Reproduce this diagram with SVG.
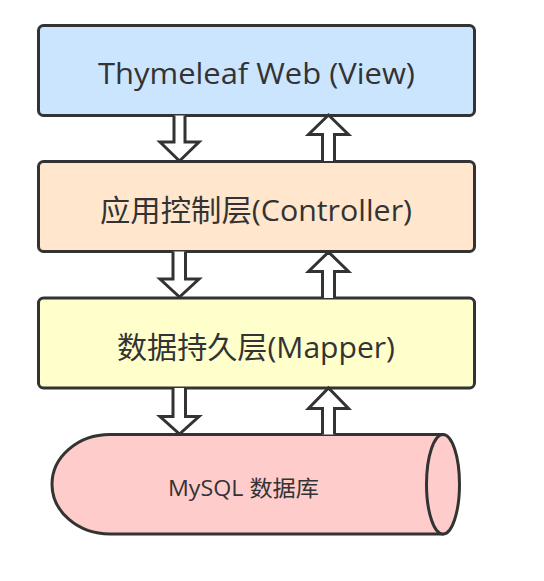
<svg xmlns="http://www.w3.org/2000/svg" width="544" height="581" viewBox="0 0 544 581">
<style>
.box{stroke:#333333;stroke-width:3}
.arr{fill:#ffffff;stroke:#333333;stroke-width:3;stroke-linejoin:miter}
.lbl{font-family:"Open Sans","Noto Sans CJK SC",sans-serif;fill:#333333;text-anchor:middle;dominant-baseline:central}
</style>
<rect width="544" height="581" fill="#ffffff"/>
<g id="view">
<rect class="box" x="38.5" y="25.5" width="436" height="90" rx="5" fill="#cce5ff"/>
<text class="lbl" x="256.5" y="72" font-size="29.5" textLength="317" lengthAdjust="spacingAndGlyphs">Thymeleaf Web (View)</text>
</g>
<g id="controller">
<rect class="box" x="38.5" y="161.5" width="436" height="90" rx="5" fill="#ffe6cc"/>
<text class="lbl" x="256" y="209" font-size="29.5" textLength="312" lengthAdjust="spacingAndGlyphs">应用控制层(Controller)</text>
</g>
<g id="mapper">
<rect class="box" x="38.5" y="298" width="436" height="90" rx="5" fill="#ffffcc"/>
<text class="lbl" x="256" y="346" font-size="29.5" textLength="278" lengthAdjust="spacingAndGlyphs">数据持久层(Mapper)</text>
</g>
<g id="mysql">
<path class="box" d="M110,434.5 H443 A16.5,50 0 0 1 443,534 H110 A58,49.75 0 0 1 110,434.5 Z" fill="#ffcccc"/>
<ellipse class="box" cx="443" cy="484.25" rx="16.5" ry="49.75" fill="#ffcccc"/>
<text class="lbl" x="243.5" y="487" font-size="22" textLength="151" lengthAdjust="spacingAndGlyphs">MySQL 数据库</text>
</g>
<g id="connectors">
<path class="arr" d="M174,115.5 V142 H160 L179.5,161 L199,142 H185 V115.5"/>
<path class="arr" d="M322.5,161 V134.5 H308.5 L328.5,115 L348.5,134.5 H334.5 V161"/>
<path class="arr" d="M173,251.5 V279 H160 L179.5,297 L199,279 H185.5 V251.5"/>
<path class="arr" d="M322.5,298 V271.5 H308.5 L328.5,252 L348.5,271.5 H334.5 V298"/>
<path class="arr" d="M173,388 V416.5 H160 L179.5,434 L199,416.5 H185.5 V388"/>
<path class="arr" d="M322.5,434.5 V408.5 H308.5 L328.5,388 L348.5,408.5 H334.5 V434.5"/>
</g>
</svg>
